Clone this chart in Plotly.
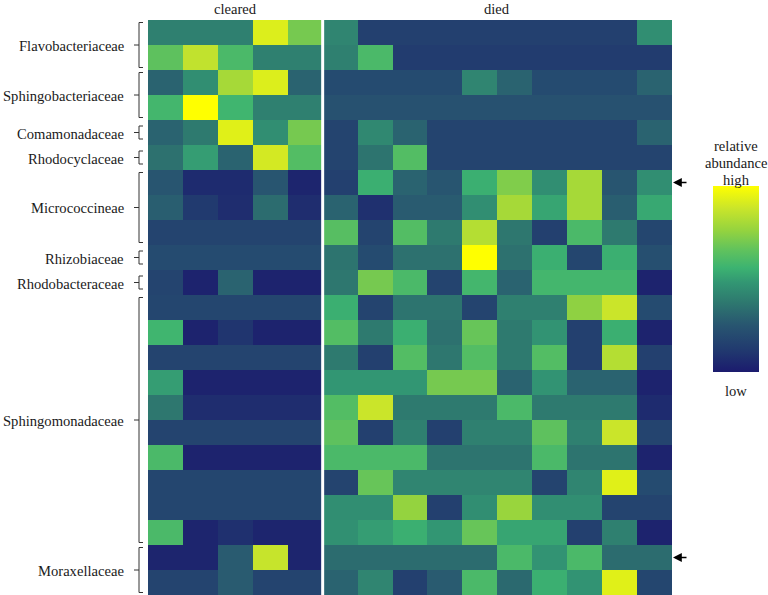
import plotly.graph_objects as go

# ---------------- data ----------------
groups = ["Flavobacteriaceae", "Sphingobacteriaceae", "Comamonadaceae", "Rhodocyclaceae",
          "Micrococcineae", "Rhizobiaceae", "Rhodobacteraceae", "Sphingomonadaceae", "Moraxellaceae"]
group_sizes = [2, 2, 1, 1, 3, 1, 1, 10, 2]

conditions = ["cleared", "died"]

cleared_values = [
    [0.40, 0.40, 0.40, 0.92, 0.70],
    [0.65, 0.86, 0.60, 0.40, 0.40],
    [0.30, 0.45, 0.80, 0.92, 0.30],
    [0.58, 1.00, 0.57, 0.40, 0.40],
    [0.30, 0.38, 0.93, 0.45, 0.70],
    [0.35, 0.50, 0.30, 0.90, 0.62],
    [0.25, 0.06, 0.06, 0.25, 0.04],
    [0.28, 0.12, 0.07, 0.33, 0.07],
    [0.17, 0.17, 0.17, 0.17, 0.17],
    [0.20, 0.20, 0.20, 0.20, 0.20],
    [0.17, 0.03, 0.30, 0.03, 0.03],
    [0.18, 0.18, 0.18, 0.18, 0.18],
    [0.57, 0.03, 0.10, 0.03, 0.03],
    [0.17, 0.17, 0.17, 0.17, 0.17],
    [0.50, 0.03, 0.03, 0.03, 0.03],
    [0.37, 0.07, 0.07, 0.07, 0.07],
    [0.17, 0.17, 0.17, 0.17, 0.17],
    [0.60, 0.03, 0.03, 0.03, 0.03],
    [0.18, 0.18, 0.18, 0.18, 0.18],
    [0.18, 0.18, 0.18, 0.18, 0.18],
    [0.60, 0.04, 0.08, 0.04, 0.04],
    [0.04, 0.04, 0.27, 0.87, 0.04],
    [0.17, 0.17, 0.27, 0.17, 0.17],
]

died_values = [
    [0.42, 0.15, 0.15, 0.15, 0.15, 0.15, 0.15, 0.15, 0.15, 0.45],
    [0.40, 0.60, 0.13, 0.13, 0.13, 0.13, 0.13, 0.13, 0.13, 0.13],
    [0.20, 0.20, 0.20, 0.20, 0.42, 0.30, 0.20, 0.20, 0.20, 0.30],
    [0.23, 0.23, 0.23, 0.23, 0.23, 0.23, 0.23, 0.23, 0.23, 0.23],
    [0.17, 0.43, 0.30, 0.17, 0.17, 0.17, 0.17, 0.17, 0.17, 0.30],
    [0.17, 0.36, 0.62, 0.17, 0.17, 0.17, 0.17, 0.17, 0.17, 0.17],
    [0.15, 0.55, 0.30, 0.25, 0.55, 0.72, 0.45, 0.80, 0.25, 0.45],
    [0.30, 0.08, 0.27, 0.27, 0.45, 0.80, 0.52, 0.80, 0.28, 0.53],
    [0.63, 0.17, 0.62, 0.38, 0.83, 0.37, 0.15, 0.60, 0.38, 0.18],
    [0.36, 0.20, 0.35, 0.35, 1.00, 0.35, 0.55, 0.18, 0.55, 0.22],
    [0.37, 0.70, 0.60, 0.17, 0.58, 0.30, 0.58, 0.58, 0.58, 0.03],
    [0.55, 0.17, 0.36, 0.36, 0.17, 0.40, 0.40, 0.75, 0.88, 0.20],
    [0.62, 0.38, 0.55, 0.35, 0.67, 0.38, 0.47, 0.15, 0.55, 0.03],
    [0.38, 0.15, 0.62, 0.37, 0.62, 0.38, 0.62, 0.15, 0.83, 0.15],
    [0.48, 0.48, 0.48, 0.70, 0.70, 0.30, 0.47, 0.30, 0.30, 0.03],
    [0.62, 0.88, 0.38, 0.38, 0.38, 0.60, 0.38, 0.38, 0.38, 0.06],
    [0.65, 0.15, 0.40, 0.15, 0.40, 0.40, 0.65, 0.40, 0.88, 0.17],
    [0.60, 0.60, 0.60, 0.36, 0.36, 0.36, 0.60, 0.36, 0.36, 0.03],
    [0.17, 0.67, 0.42, 0.42, 0.42, 0.42, 0.17, 0.42, 0.93, 0.20],
    [0.45, 0.45, 0.76, 0.15, 0.45, 0.77, 0.45, 0.45, 0.17, 0.17],
    [0.46, 0.50, 0.55, 0.48, 0.67, 0.52, 0.52, 0.15, 0.40, 0.03],
    [0.33, 0.33, 0.33, 0.33, 0.33, 0.60, 0.47, 0.60, 0.33, 0.33],
    [0.30, 0.42, 0.15, 0.27, 0.60, 0.32, 0.55, 0.47, 0.93, 0.18],
]

arrow_rows = [6, 21]  # rows marked with an arrow

# ---------------- layout constants ----------------
W, H = 768, 595
ML, MR, MT, MB = 148, 96, 20, 0
PW, PH = W - ML - MR, H - MT - MB
FONT = "Liberation Serif, Times New Roman, serif"
FS = 14.6
TXT = "#1a1a1a"

def px_x(px):
    return (px - ML) / PW

def px_y(py):
    return 1 - (py - MT) / PH

n_clear = len(cleared_values[0])
n_died = len(died_values[0])
n_cols = n_clear + n_died
n_rows = len(cleared_values)

z = [c + d for c, d in zip(cleared_values, died_values)]

colorscale = [
    [0.00, "#1b1b6e"], [0.12, "#213a6f"], [0.25, "#285570"], [0.38, "#2e7a6f"],
    [0.48, "#329673"], [0.56, "#3cb371"], [0.66, "#62c35c"], [0.76, "#94d33f"],
    [0.88, "#cae52a"], [1.00, "#ffff00"],
]

fig = go.Figure(go.Heatmap(
    z=z, x=list(range(n_cols)), y=list(range(n_rows)),
    zmin=0, zmax=1, colorscale=colorscale,
    colorbar=dict(
        xref="container", yref="container",
        x=713 / W, xanchor="left", y=(H - 192) / H, yanchor="top",
        thickness=46, thicknessmode="pixels", len=186, lenmode="pixels",
        outlinewidth=0, showticklabels=False, ticks="", xpad=0, ypad=0,
    ),
    hoverinfo="skip",
))

shapes = []
# white divider between the two conditions
shapes.append(dict(type="line", xref="x", yref="paper", x0=n_clear - 0.5, x1=n_clear - 0.5,
                   y0=0, y1=1, line=dict(color="white", width=3)))

annotations = []
# brackets and group labels
start = 0
for name, size in zip(groups, group_sizes):
    top_py = MT + start * PH / n_rows
    bot_py = MT + (start + size) * PH / n_rows
    mid_py = (top_py + bot_py) / 2
    if size == 1:
        t, b = mid_py - 6.5, mid_py + 6.5
    else:
        t, b = top_py + 2.5, bot_py - 2.5
    path = (f"M -5,{px_y(t)} L -9,{px_y(t)} L -9,{px_y(b)} L -5,{px_y(b)} "
            f"M -9,{px_y(mid_py)} L -14,{px_y(mid_py)}")
    shapes.append(dict(type="path", xref="paper", yref="paper", xsizemode="pixel", xanchor=0,
                       path=path, line=dict(color="#333333", width=1)))
    annotations.append(dict(xref="paper", yref="paper", x=0, y=px_y(mid_py + 1), xanchor="right",
                            yanchor="middle", xshift=-22.5, text=name, showarrow=False,
                            font=dict(family=FONT, size=FS, color=TXT)))
    start += size

# condition titles
annotations.append(dict(xref="x", yref="paper", x=(n_clear - 1) / 2, y=1, yanchor="bottom", yshift=1,
                        text=conditions[0], showarrow=False, font=dict(family=FONT, size=FS, color=TXT)))
annotations.append(dict(xref="x", yref="paper", x=n_clear + (n_died - 1) / 2, y=1, yanchor="bottom", yshift=1,
                        text=conditions[1], showarrow=False, font=dict(family=FONT, size=FS, color=TXT)))

# colorbar labels
for txt, py in [("relative", 146), ("abundance", 163), ("high", 180), ("low", 391)]:
    annotations.append(dict(xref="paper", yref="paper", x=px_x(736), y=px_y(py), xanchor="center",
                            yanchor="middle", text=txt, showarrow=False,
                            font=dict(family=FONT, size=FS, color=TXT)))

# arrows
for r in arrow_rows:
    annotations.append(dict(xref="x", yref="y", x=n_cols - 0.5, y=r, text="", showarrow=True,
                            ax=16, ay=0, arrowhead=2, arrowsize=1.1, arrowwidth=1.6,
                            arrowcolor="black", standoff=1))

fig.update_layout(
    width=W, height=H, margin=dict(l=ML, r=MR, t=MT, b=MB),
    paper_bgcolor="white", plot_bgcolor="white",
    xaxis=dict(visible=False, range=[-0.5, n_cols - 0.5]),
    yaxis=dict(visible=False, range=[n_rows - 0.5, -0.5]),
    shapes=shapes, annotations=annotations, showlegend=False,
)

fig.write_html(
    "out.html",
    config={"displayModeBar": False},
    post_script="document.body.style.margin='0';document.body.style.overflow='hidden';",
)
